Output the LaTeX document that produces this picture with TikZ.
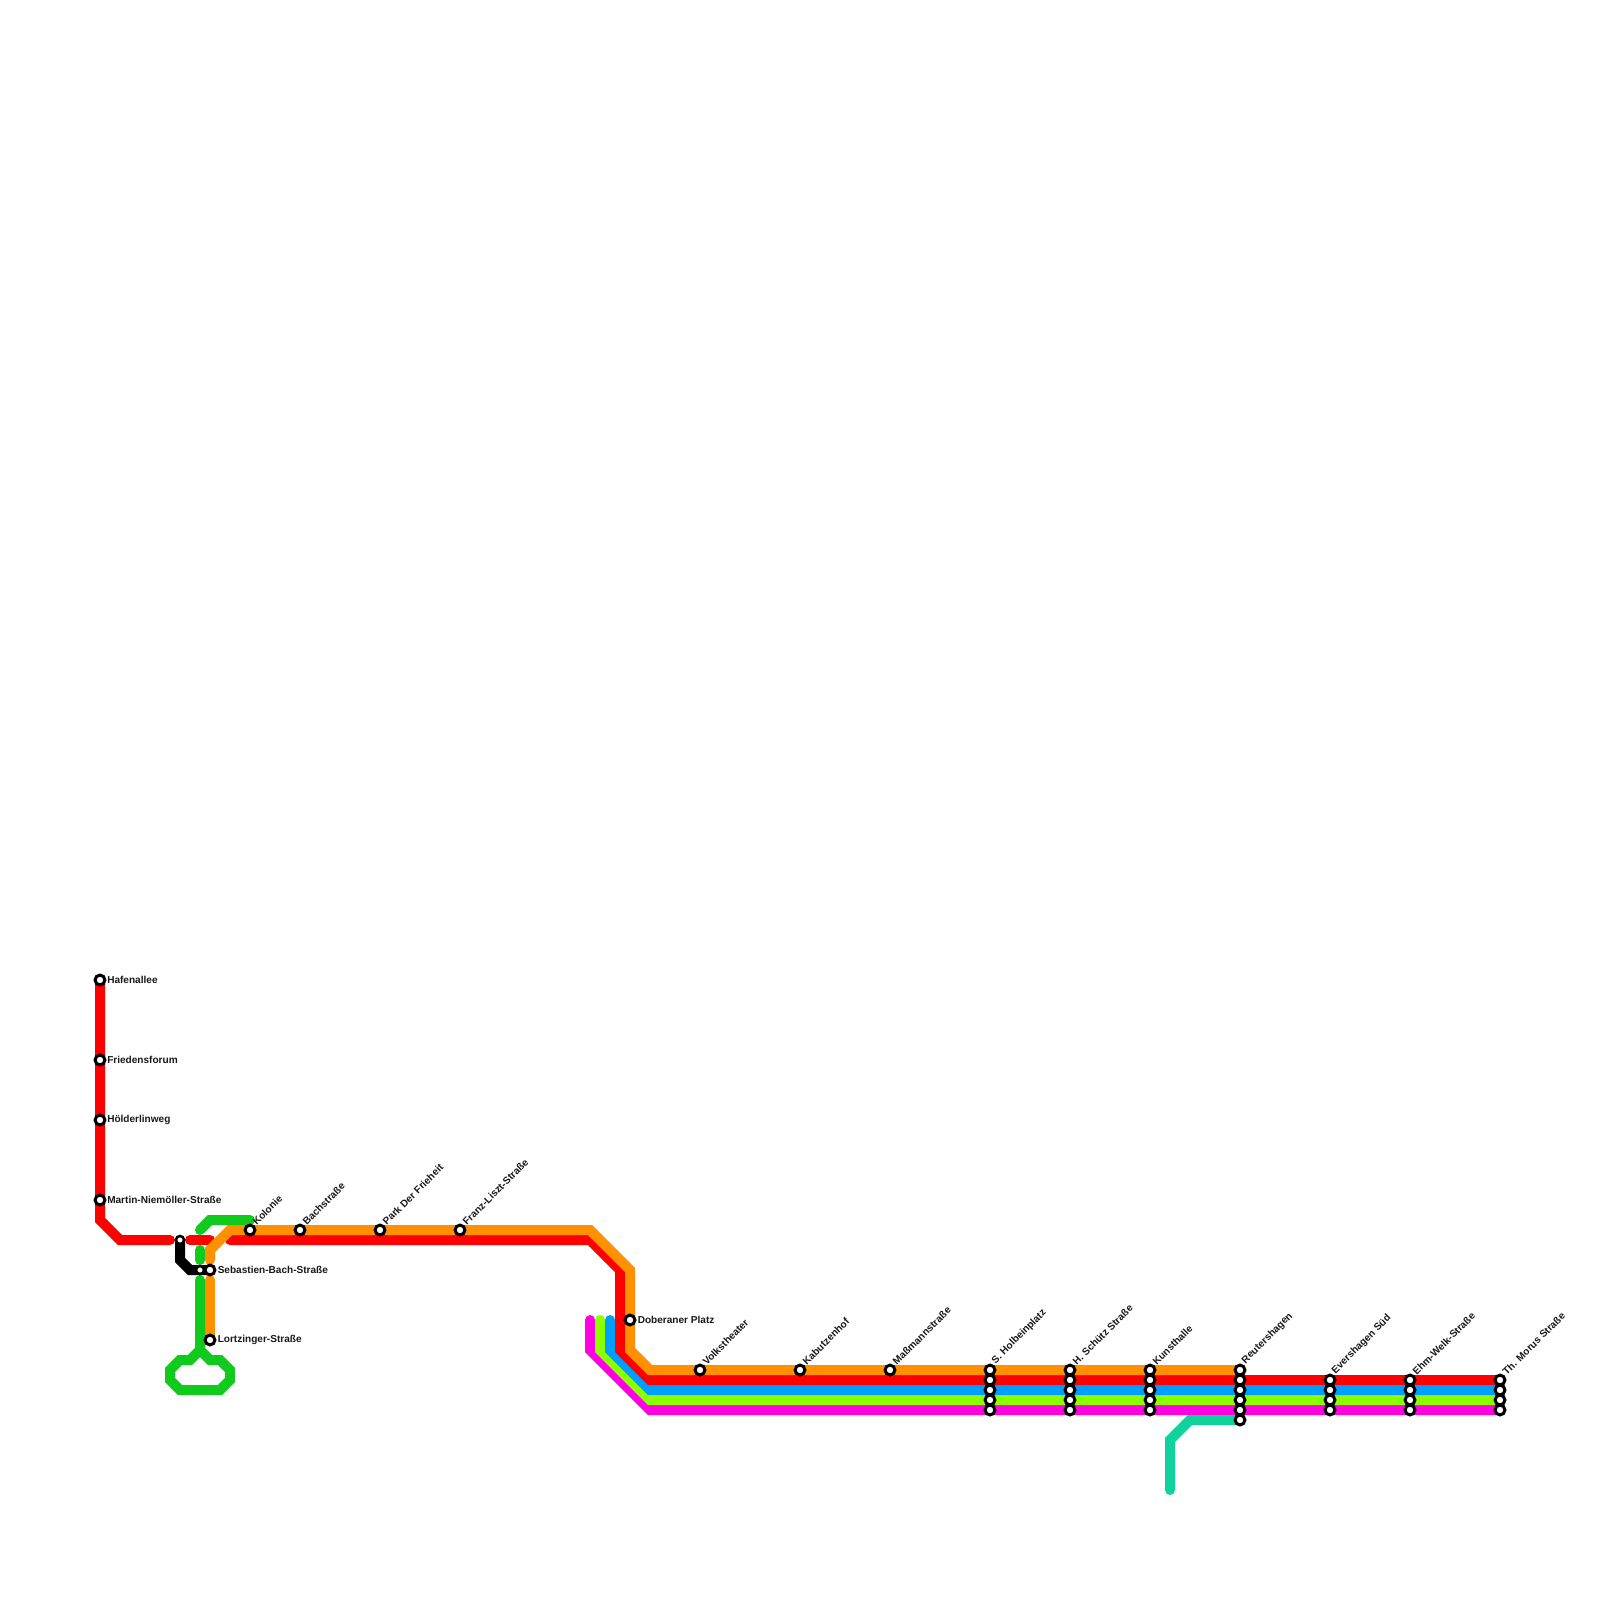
\documentclass[tikz,border=0pt]{standalone}
\usepackage{fontspec}
\setmainfont{Liberation Sans}
\tikzset{
  x=0.75pt,y=-0.75pt,
  metro/.style={line width=7.5pt,line cap=round,line join=miter,miter limit=10},
  stn/.style={circle,draw=black,fill=white,line width=2.25pt,minimum size=7.4pt,inner sep=0pt},
  stnsmall/.style={stn,minimum size=6pt,line width=1.9pt},
  lbl/.style={font=\bfseries\fontsize{7.55}{8}\selectfont,inner sep=0pt,anchor=west,text=black!90},
  rlbl/.style={lbl,rotate=45,anchor=south west},
}
\definecolor{cred}{HTML}{FF0000}
\definecolor{corange}{HTML}{FF9100}
\definecolor{cgreen}{HTML}{10CA1E}
\definecolor{cblue}{HTML}{009FFF}
\definecolor{clime}{HTML}{8CFF00}
\definecolor{cmag}{HTML}{FF00E0}
\definecolor{cteal}{HTML}{10D29C}
\begin{document}
\begin{tikzpicture}
\useasboundingbox (0,0) rectangle (1600,1600);
\fill[white] (0,0) rectangle (1600,1600);
% bundle, lowest first
\draw[metro,cmag] (590,1320) -- (590,1350) -- (650,1410) -- (1500,1410);
\draw[metro,clime] (600,1320) -- (600,1350) -- (650,1400) -- (1500,1400);
\draw[metro,cblue] (610,1320) -- (610,1350) -- (650,1390) -- (1500,1390);
% red
\draw[metro,cred] (100,980) -- (100,1220) -- (120,1240) -- (170,1240);
\draw[metro,cred] (190,1240) -- (210,1240);
\draw[metro,cred] (230,1240) -- (590,1240) -- (620,1270) -- (620,1350) -- (650,1380) -- (1500,1380);
% orange
\draw[metro,corange] (210,1260) -- (210,1250) -- (230,1230) -- (590,1230) -- (630,1270) -- (630,1350) -- (650,1370) -- (1240,1370);
\draw[metro,corange] (210,1280) -- (210,1340);
% green
\draw[metro,cgreen] (200,1230) -- (210,1220) -- (250,1220);
\draw[metro,cgreen] (200,1250) -- (200,1260);
\draw[metro,cgreen] (200,1280) -- (200,1350) -- (190,1360) -- (180,1360) -- (170,1370) -- (170,1380) -- (180,1390) -- (220,1390) -- (230,1380) -- (230,1370) -- (220,1360) -- (210,1360) -- (200,1350);
% black
\draw[metro,black] (180,1240) -- (180,1260) -- (190,1270) -- (210,1270);
% teal
\draw[metro,cteal] (1170,1490) -- (1170,1440) -- (1190,1420) -- (1240,1420);
% stations
\foreach \n/\x/\y in {a/100/980,b/100/1060,c/100/1120,d/100/1200,e/250/1230,f/300/1230,g/380/1230,h/460/1230,i/210/1270,j/210/1340,k/630/1320,l/700/1370,m/800/1370,n/890/1370}
  \node[stn] (s\n) at (\x,\y) {};
\foreach \x in {990,1070,1150}
  \foreach \y in {1370,1380,1390,1400,1410}
    \node[stn] (t\x\y) at (\x,\y) {};
\foreach \y in {1370,1380,1390,1400,1410,1420}
  \node[stn] (u\y) at (1240,\y) {};
\foreach \x in {1330,1410,1500}
  \foreach \y in {1380,1390,1400,1410}
    \node[stn] (v\x\y) at (\x,\y) {};
\node[stnsmall] (w1) at (180,1240) {};
\node[stnsmall] (w2) at (200,1270) {};
% labels
\node[lbl] (la) at (107,979.5) {Hafenallee};
\node[lbl] (lb) at (107,1059.5) {Friedensforum};
\node[lbl] (lc) at (107,1119.5) {Hölderlinweg};
\node[lbl] (ld) at (107,1199.5) {Martin-Niemöller-Straße};
\node[lbl] (li) at (217.5,1269.5) {Sebastien-Bach-Straße};
\node[lbl] (lj) at (217.5,1339.5) {Lortzinger-Straße};
\node[lbl] (lk) at (637.5,1319.5) {Doberaner Platz};
\foreach \n/\x/\y/\t in {e/250/1230/Kolonie,f/300/1230/Bachstraße,g/380/1230/Park Der Frieheit,h/460/1230/Franz-Liszt-Straße,l/700/1370/Volkstheater,m/800/1370/Kabutzenhof,n/890/1370/Maßmannstraße,p/990/1370/S. Holbeinplatz,q/1070/1370/H. Schütz Straße,r/1150/1370/Kunsthalle,s/1240/1370/Reutershagen,t/1330/1380/Evershagen Süd,u/1410/1380/Ehm-Welk-Straße,v/1500/1380/Th. Morus Straße}
  \node[rlbl] (r\n) at (\x+7,\y-4) {\t};
\end{tikzpicture}
\end{document}
